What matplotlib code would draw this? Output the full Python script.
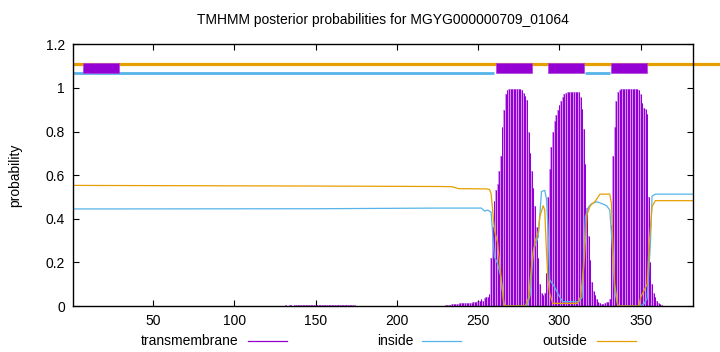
import numpy as np
import matplotlib
matplotlib.use("Agg")
import matplotlib.pyplot as plt
from matplotlib.patches import Rectangle
from matplotlib.lines import Line2D

plt.rcParams['font.family'] = ['Liberation Sans', 'DejaVu Sans']

seq_len = 382
title = "TMHMM posterior probabilities for MGYG000000709_01064"

# per-residue transmembrane probability (impulses), residues not listed are ~0
tm_res = list(range(131, 177)) + list(range(230, 364))
tm_prob = [0.002, 0.003, 0.002, 0.003, 0.003, 0.002, 0.003, 0.003, 0.003, 0.003,
           0.003, 0.003, 0.003, 0.004, 0.004, 0.004, 0.004, 0.004, 0.004, 0.005,
           0.005, 0.005, 0.005, 0.005, 0.005, 0.005, 0.005, 0.005, 0.005, 0.005,
           0.005, 0.005, 0.005, 0.005, 0.005, 0.005, 0.005, 0.004, 0.004, 0.004,
           0.004, 0.003, 0.003, 0.003, 0.002, 0.002,
           # 230-
           0.003, 0.004, 0.005, 0.006, 0.008, 0.010, 0.010, 0.011, 0.011, 0.012,
           0.012, 0.013, 0.013, 0.014, 0.014, 0.015, 0.016, 0.017, 0.018, 0.020,
           0.022, 0.025, 0.030, 0.025, 0.035, 0.040, 0.040, 0.055, 0.22, 0.36,
           # 260-
           0.48, 0.53, 0.56, 0.62, 0.69, 0.82, 0.90, 0.97, 0.99, 0.995,
           0.997, 0.997, 0.997, 0.997, 0.997, 0.997, 0.997, 0.99, 0.975, 0.965,
           # 280-
           0.945, 0.80, 0.70, 0.62, 0.54, 0.46, 0.36, 0.22, 0.10, 0.06,
           0.05, 0.06, 0.15, 0.50, 0.63, 0.73, 0.80, 0.85, 0.875, 0.90,
           # 300-
           0.92, 0.94, 0.96, 0.972, 0.977, 0.98, 0.982, 0.982, 0.982, 0.982,
           0.982, 0.982, 0.982, 0.96, 0.905, 0.81, 0.65, 0.45, 0.32, 0.21,
           # 320-
           0.11, 0.07, 0.05, 0.03, 0.02, 0.015, 0.01, 0.01, 0.012, 0.02,
           0.02, 0.03, 0.37, 0.69, 0.82, 0.94, 0.98, 0.99, 0.996, 0.996,
           # 340-
           0.996, 0.996, 0.996, 0.996, 0.996, 0.996, 0.996, 0.996, 0.996, 0.99,
           0.97, 0.93, 0.91, 0.905, 0.88, 0.50, 0.20, 0.10, 0.06, 0.04,
           # 360-
           0.025, 0.015, 0.01, 0.005]

inside_x = [1, 150, 225, 252, 254, 256, 257, 258, 260, 262, 264, 266, 280, 282,
            284, 287, 289, 291, 292, 293, 294, 297, 299, 302, 312, 314, 316, 318,
            320, 323, 326, 329, 331, 333, 334, 336, 350, 352, 354, 356, 357, 359, 382]
inside_y = [0.445, 0.446, 0.449, 0.449, 0.435, 0.44, 0.435, 0.43, 0.226, 0.195,
            0.134, 0.0, 0.0, 0.05, 0.256, 0.318, 0.525, 0.53, 0.494, 0.36, 0.12,
            0.088, 0.058, 0.02, 0.02, 0.04, 0.41, 0.455, 0.47, 0.478, 0.47, 0.46,
            0.44, 0.226, 0.07, 0.0, 0.0, 0.01, 0.035, 0.29, 0.504, 0.513, 0.513]

outside_x = [1, 150, 225, 234, 238, 255, 257, 258, 260, 262, 264, 266, 268, 279,
             281, 283, 285, 287, 288, 290, 291, 292, 293, 294, 296, 311, 313, 315,
             317, 319, 322, 325, 331, 332, 333, 334, 336, 349, 350, 352, 354, 355,
             357, 359, 382]
outside_y = [0.553, 0.550, 0.548, 0.547, 0.538, 0.537, 0.534, 0.516, 0.35, 0.29,
             0.134, 0.005, 0.0, 0.0, 0.035, 0.195, 0.295, 0.34, 0.41, 0.46, 0.44,
             0.256, 0.12, 0.058, 0.012, 0.012, 0.04, 0.18, 0.42, 0.46, 0.48, 0.513,
             0.513, 0.47, 0.256, 0.1, 0.0, 0.0, 0.04, 0.07, 0.1, 0.256, 0.455,
             0.483, 0.483]

# predicted topology segments (start, end)
helices = [(7, 29), (261, 283), (293, 315), (332, 354)]
inside_segs = [(1, 260), (316, 331)]
outside_segs = [(1, 400)]

c_tm = "#9400d3"
c_in = "#56b4e9"
c_out = "#e69f00"

fig = plt.figure(figsize=(7.2, 3.52), dpi=100)
ax = fig.add_axes([73.3 / 720, 1 - 306 / 352, (692.7 - 73.3) / 720, (306 - 44.3) / 352])

# impulses: light fill between the dark lines like the original rendering
ax.bar(tm_res, tm_prob, width=1.0, color="#d59af2", linewidth=0)
ax.vlines(tm_res, 0, tm_prob, color=c_tm, lw=0.75)
ax.plot(inside_x, inside_y, color=c_in, lw=0.9)
ax.plot(outside_x, outside_y, color=c_out, lw=0.9)

for s, e in outside_segs:
    ax.plot([s, e], [1.11, 1.11], color=c_out, lw=2.3, clip_on=False, solid_capstyle='butt')
for s, e in inside_segs:
    ax.plot([s, e], [1.07, 1.07], color=c_in, lw=2.0, solid_capstyle='butt')
for s, e in helices:
    ax.add_patch(Rectangle((s, 1.067), e - s, 0.047, facecolor=c_tm, edgecolor="#b040e0", lw=0.5, zorder=3))

ax.set_xlim(1, seq_len)
ax.set_ylim(0, 1.2)
ax.set_xticks([50, 100, 150, 200, 250, 300, 350])
ax.set_yticks([0, 0.2, 0.4, 0.6, 0.8, 1.0, 1.2])
ax.set_yticklabels(["0", "0.2", "0.4", "0.6", "0.8", "1", "1.2"])
ax.tick_params(direction='in', top=True, right=True, length=4, width=0.8, labelsize=10, pad=6)
for sp in ax.spines.values():
    sp.set_linewidth(1.0)
ax.set_ylabel("probability", fontsize=10, labelpad=17)
fig.text(383 / 720, 1 - 20 / 352, title, ha='center', va='center', fontsize=10)

# key at the bottom
key = [("transmembrane", 238.5, 247.7, 286.7, c_tm),
       ("inside", 413, 421.7, 461, c_in),
       ("outside", 587.5, 597, 636, c_out)]
ky = 1 - 340.7 / 352
for label, tx, x0, x1, col in key:
    fig.text(tx / 720, ky, label, ha='right', va='center', fontsize=10)
    fig.add_artist(Line2D([x0 / 720, x1 / 720], [ky, ky], color=col, lw=0.9))

fig.savefig("out.png", dpi=100)
